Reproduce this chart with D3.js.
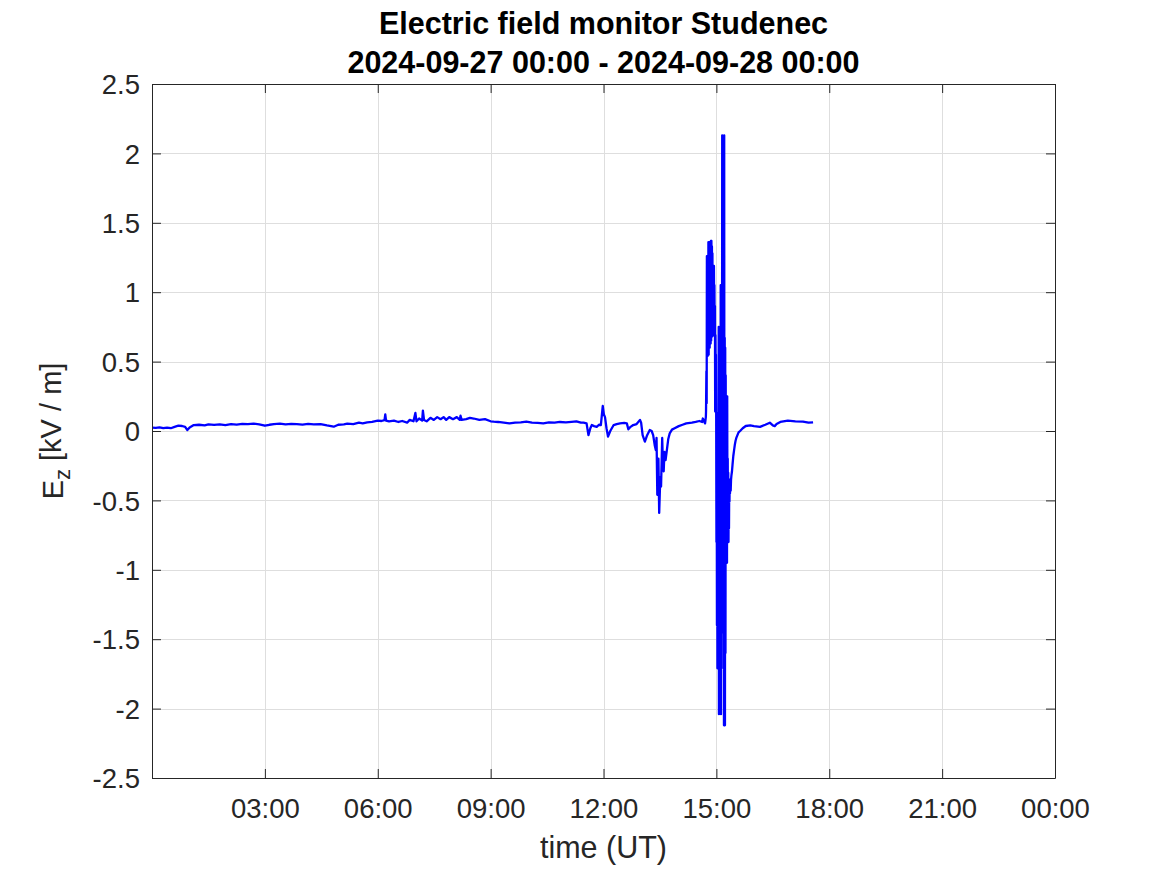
<!DOCTYPE html>
<html>
<head>
<meta charset="utf-8">
<script src="https://cdn.jsdelivr.net/npm/d3@7"></script>
<style>
  html, body { margin: 0; padding: 0; background: #fff; }
  svg { display: block; }
  text { font-family: "Liberation Sans", Arial, Helvetica, sans-serif; }
</style>
</head>
<body>
<script>
// ---- data (hours UT, Ez in kV/m) ----
const titleLines = ["Electric field monitor Studenec", "2024-09-27 00:00 - 2024-09-28 00:00"];
const xTickHours = [3, 6, 9, 12, 15, 18, 21, 24];
const xTickLabels = ["03:00", "06:00", "09:00", "12:00", "15:00", "18:00", "21:00", "00:00"];
const yTickValues = [-2.5, -2, -1.5, -1, -0.5, 0, 0.5, 1, 1.5, 2, 2.5];
const yTickLabels = ["-2.5", "-2", "-1.5", "-1", "-0.5", "0", "0.5", "1", "1.5", "2", "2.5"];

const ezQuiet = [
  [0.00,0.024],[0.10,0.022],[0.20,0.026],[0.30,0.020],[0.40,0.024],[0.50,0.020],[0.60,0.030],
  [0.70,0.038],[0.80,0.036],[0.88,0.030],[0.94,0.007],[1.00,0.025],[1.11,0.043],[1.25,0.045],
  [1.40,0.040],[1.50,0.048],[1.65,0.044],[1.80,0.048],[1.95,0.043],[2.10,0.050],[2.25,0.046],
  [2.40,0.052],[2.55,0.050],[2.70,0.053],[2.85,0.048],[3.00,0.038],[3.12,0.045],[3.24,0.050],
  [3.40,0.053],[3.55,0.048],[3.70,0.052],[3.85,0.050],[4.00,0.046],[4.15,0.051],[4.30,0.048],
  [4.48,0.050],[4.65,0.040],[4.83,0.031],[4.95,0.045],[5.10,0.048],[5.19,0.053],[5.35,0.050],
  [5.50,0.060],[5.60,0.055],[5.72,0.062],[5.85,0.065],[6.00,0.075],[6.10,0.072],[6.18,0.078],
  [6.20,0.120],[6.22,0.075],[6.30,0.070],[6.43,0.075],[6.55,0.065],[6.65,0.072],[6.78,0.060],
  [6.85,0.080],[6.95,0.070],[7.00,0.130],[7.03,0.070],[7.10,0.090],[7.18,0.075],[7.20,0.147],
  [7.23,0.080],[7.30,0.070],[7.40,0.095],[7.49,0.080],[7.58,0.100],[7.67,0.085],[7.75,0.100],
  [7.82,0.080],[7.90,0.100],[8.00,0.085],[8.10,0.100],[8.18,0.080],[8.20,0.110],[8.23,0.080],
  [8.35,0.085],[8.45,0.095],[8.55,0.090],[8.70,0.080],[8.85,0.085],[9.00,0.070],[9.08,0.067],
  [9.20,0.065],[9.35,0.060],[9.50,0.055],[9.65,0.060],[9.80,0.062],[9.95,0.067],[10.10,0.060],
  [10.25,0.058],[10.40,0.055],[10.55,0.062],[10.70,0.060],[10.84,0.065],[11.00,0.062],[11.15,0.066],
  [11.28,0.070],[11.40,0.060],[11.47,0.060],[11.55,0.055],[11.60,-0.030],[11.65,0.020],[11.69,0.043],
  [11.75,0.035],[11.82,0.030],[11.88,0.045],[11.93,0.043],[11.98,0.180],[12.01,0.120],[12.04,0.100],
  [12.08,0.020],[12.12,-0.040],[12.18,0.000],[12.27,0.043],[12.35,0.050],[12.44,0.055],[12.55,0.058],
  [12.62,0.055],[12.66,0.012],[12.72,0.030],[12.79,0.043],[12.88,0.050],[12.97,0.080],[13.00,0.060],
  [13.04,-0.030],[13.10,-0.077],[13.16,-0.030],[13.23,0.007],[13.28,0.000],[13.32,-0.030],[13.36,-0.100],
  [13.39,-0.137],[13.41,-0.050],[13.43,-0.460],[13.46,-0.200],[13.48,-0.590],[13.51,-0.330],[13.53,-0.400],
  [13.56,-0.050],[13.58,-0.250],[13.60,-0.290],[13.62,-0.150],[13.65,-0.210],[13.69,-0.125],[13.72,-0.060],
  [13.76,-0.017],[13.82,0.010],[13.89,0.020],[14.00,0.035],[14.10,0.045],[14.20,0.055],[14.35,0.060],
  [14.45,0.065],[14.55,0.072],[14.62,0.065],[14.64,0.090],[14.67,0.070],[14.70,0.055],[14.72,0.100]
];

const ezStorm = [
  [14.725,0.14],[14.735,0.43],[14.742,0.20],[14.748,1.26],[14.755,0.56],[14.762,1.22],[14.768,0.54],
  [14.775,1.26],[14.782,0.58],[14.788,1.36],[14.795,0.55],[14.802,1.33],[14.808,0.62],[14.815,1.36],
  [14.822,0.60],[14.828,1.34],[14.835,0.66],[14.842,1.30],[14.848,0.63],[14.855,1.37],[14.862,0.65],
  [14.868,1.37],[14.875,0.70],[14.882,1.33],[14.888,0.68],[14.895,1.28],[14.902,0.72],[14.908,1.19],
  [14.915,0.70],[14.922,1.15],[14.928,0.69],[14.935,1.19],[14.942,0.75],[14.948,1.05],[14.955,0.69],
  [14.962,0.90],[14.968,0.14],[14.975,0.69],[14.982,0.30],[14.988,0.55],[14.995,0.14],[15.002,-0.80],
  [15.008,0.13],[15.015,-1.40],[15.022,0.10],[15.028,-1.71],[15.035,0.05],[15.042,-1.50],[15.048,0.13],
  [15.055,-1.20],[15.062,0.75],[15.068,-2.04],[15.075,0.60],[15.082,-1.90],[15.088,0.75],[15.095,-2.03],
  [15.102,0.50],[15.108,-1.80],[15.115,1.05],[15.122,-2.04],[15.128,0.80],[15.135,-1.45],[15.142,1.00],
  [15.148,-1.20],[15.155,2.13],[15.162,-1.45],[15.168,2.05],[15.175,-1.30],[15.182,2.10],[15.188,-1.71],
  [15.195,1.90],[15.202,-2.12],[15.208,2.13],[15.215,-2.05],[15.222,0.67],[15.228,-2.12],[15.235,0.60],
  [15.242,-1.60],[15.248,0.40],[15.255,-0.95],[15.262,0.25],[15.268,-0.90],[15.275,0.20],[15.282,-0.95],
  [15.288,0.25],[15.295,-0.80],[15.302,-0.20],[15.308,-0.78],[15.315,-0.30],[15.322,-0.80],[15.328,-0.35],
  [15.335,-0.70],[15.342,-0.40],[15.348,-0.51],[15.355,-0.35]
];

const ezRecovery = [
  [15.362,-0.45],[15.370,-0.35],[15.380,-0.43],[15.390,-0.35],[15.400,-0.32],[15.415,-0.29],[15.430,-0.24],
  [15.450,-0.18],[15.470,-0.14],[15.490,-0.10],[15.510,-0.07],[15.530,-0.05],[15.560,-0.03],[15.590,-0.01],
  [15.630,0.000],[15.700,0.020],[15.780,0.036],[15.900,0.040],[16.000,0.035],[16.160,0.030],[16.300,0.045],
  [16.420,0.060],[16.500,0.040],[16.550,0.035],[16.600,0.050],[16.700,0.065],[16.900,0.075],[17.100,0.070],
  [17.300,0.068],[17.450,0.060],[17.570,0.062]
];

// ---- layout ----
const W = 1167, H = 875;
const plot = { left: 152, right: 1055, top: 84, bottom: 778 };
const tickLen = 9;
const axisColor = "#262626";

const svg = d3.select("body").append("svg").attr("width", W).attr("height", H);

const x = d3.scaleLinear().domain([0, 24]).range([plot.left, plot.right]);
const y = d3.scaleLinear().domain([-2.5, 2.5]).range([plot.bottom, plot.top]);

// grid
const grid = svg.append("g").attr("stroke", "#dedede").attr("stroke-width", 1);
grid.selectAll("line.gx").data(xTickHours).join("line")
  .attr("x1", d => Math.round(x(d)) + 0.5).attr("x2", d => Math.round(x(d)) + 0.5)
  .attr("y1", plot.top).attr("y2", plot.bottom);
grid.selectAll("line.gy").data(yTickValues).join("line")
  .attr("y1", d => Math.round(y(d)) + 0.5).attr("y2", d => Math.round(y(d)) + 0.5)
  .attr("x1", plot.left).attr("x2", plot.right);

// data line
svg.append("clipPath").attr("id", "clip").append("rect")
  .attr("x", plot.left).attr("y", plot.top)
  .attr("width", plot.right - plot.left).attr("height", plot.bottom - plot.top);

const series = ezQuiet.concat(ezStorm, ezRecovery);
const line = d3.line().x(d => x(d[0])).y(d => y(d[1]));
svg.append("path").datum(series)
  .attr("clip-path", "url(#clip)")
  .attr("fill", "none").attr("stroke", "#0000ff").attr("stroke-width", 2.3)
  .attr("stroke-linejoin", "round")
  .attr("d", line);

// axes (ticks inside on all four sides)
const fmtX = d => xTickLabels[xTickHours.indexOf(d)];
const fmtY = d => yTickLabels[yTickValues.indexOf(d)];

const axB = svg.append("g").attr("transform", `translate(0,${plot.bottom})`)
  .call(d3.axisBottom(x).tickValues(xTickHours).tickFormat(fmtX).tickSizeInner(-tickLen).tickSizeOuter(0).tickPadding(20));
const axT = svg.append("g").attr("transform", `translate(0,${plot.top})`)
  .call(d3.axisTop(x).tickValues(xTickHours).tickFormat("").tickSizeInner(-tickLen).tickSizeOuter(0));
const axL = svg.append("g").attr("transform", `translate(${plot.left},0)`)
  .call(d3.axisLeft(y).tickValues(yTickValues).tickFormat(fmtY).tickSizeInner(-tickLen).tickSizeOuter(0).tickPadding(12));
const axR = svg.append("g").attr("transform", `translate(${plot.right},0)`)
  .call(d3.axisRight(y).tickValues(yTickValues).tickFormat("").tickSizeInner(-tickLen).tickSizeOuter(0));

[axB, axT, axL, axR].forEach(a => {
  a.select(".domain").attr("stroke", axisColor).attr("stroke-width", 1);
  a.selectAll(".tick line").attr("stroke", axisColor).attr("stroke-width", 1);
  a.selectAll("text").attr("fill", axisColor).style("font-size", "27.5px")
    .style("font-family", '"Liberation Sans", Arial, sans-serif');
});
axB.selectAll("text").attr("dy", "0.71em");
axL.selectAll("text").attr("dy", "0.35em");

// titles
const cx = (plot.left + plot.right) / 2;
svg.append("text").attr("x", cx).attr("y", 34)
  .attr("text-anchor", "middle").style("font-size", "30.5px").style("font-weight", "bold")
  .style("fill", "#000").text(titleLines[0]);
svg.append("text").attr("x", cx).attr("y", 73)
  .attr("text-anchor", "middle").style("font-size", "30.5px").style("font-weight", "bold")
  .style("fill", "#000").text(titleLines[1]);

// axis labels
svg.append("text").attr("x", cx).attr("y", 858)
  .attr("text-anchor", "middle").style("font-size", "30.5px").style("fill", axisColor).text("time (UT)");

const yl = svg.append("text")
  .attr("transform", `translate(63,${(plot.top + plot.bottom) / 2}) rotate(-90)`)
  .attr("text-anchor", "middle").style("font-size", "29px").style("fill", axisColor);
yl.append("tspan").text("E");
yl.append("tspan").attr("dy", "0.3em").style("font-size", "22px").text("z");
yl.append("tspan").attr("dy", "-0.3em").text(" [kV / m]");
</script>
</body>
</html>
